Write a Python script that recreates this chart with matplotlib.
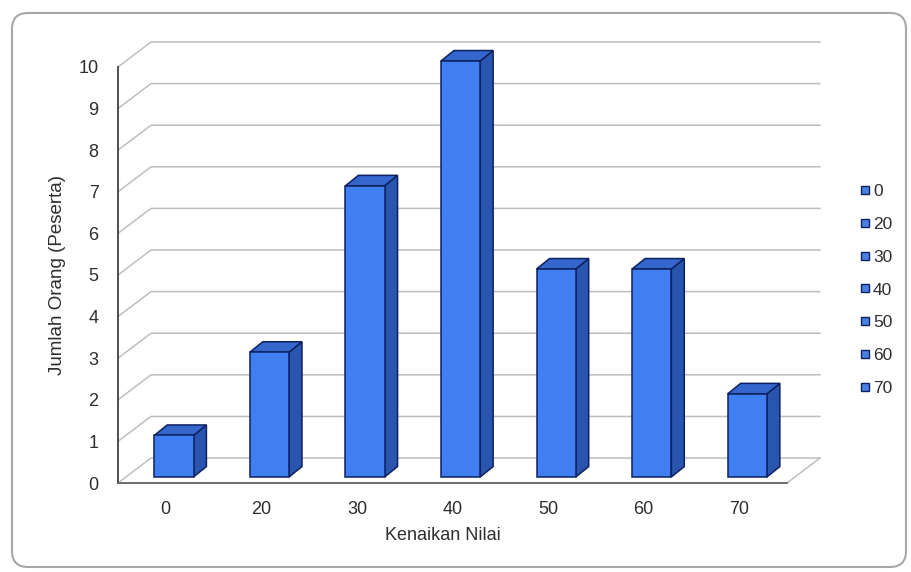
import matplotlib
matplotlib.use("Agg")
import matplotlib.pyplot as plt
from matplotlib.patches import Rectangle, Polygon, FancyBboxPatch
from matplotlib.lines import Line2D
from matplotlib.transforms import IdentityTransform

plt.rcParams['font.family'] = ['Liberation Sans', 'DejaVu Sans']

# data
categories = ['0', '20', '30', '40', '50', '60', '70']
counts = [1, 3, 7, 10, 5, 5, 2]

# colours
front_col = '#3F7FF2'
side_col = '#2A55AE'
top_col = '#3466CC'
edge_col = '#0D2160'
grid_col = '#BEBEBE'
text_col = '#2E2E2E'

# pseudo 3d geometry (data units)
DX, DY = 0.345, 0.60      # depth of the back wall
BX, BY = 0.085, 0.145     # where the bars sit in depth
bdx, bdy = 0.135, 0.25    # depth of a bar
w = 0.41

n = len(categories)
fig = plt.figure(figsize=(9.12, 5.72), dpi=100)
ax = fig.add_axes([118/912, 89/572, 702/912, 441/572])
ax.set_xlim(-0.5, n - 0.5 + DX)
ax.set_ylim(0, 10 + DY)

# back wall grid lines + left side diagonals
for v in range(0, 11):
    ax.plot([-0.5, -0.5 + DX, n - 0.5 + DX], [v, v + DY, v + DY],
            color=grid_col, lw=1.1, zorder=1, clip_on=False)
# floor right edge
ax.plot([n - 0.5, n - 0.5 + DX], [0, DY], color=grid_col, lw=1.1, zorder=1, clip_on=False)

for i, v in enumerate(counts):
    x0 = i - w/2 + BX
    y0 = BY
    ax.add_patch(Polygon([(x0 + w, y0), (x0 + w + bdx, y0 + bdy),
                          (x0 + w + bdx, y0 + v + bdy), (x0 + w, y0 + v)],
                         closed=True, fc=side_col, ec=edge_col, lw=1.1, zorder=3))
    ax.add_patch(Polygon([(x0, y0 + v), (x0 + w, y0 + v),
                          (x0 + w + bdx, y0 + v + bdy), (x0 + bdx, y0 + v + bdy)],
                         closed=True, fc=top_col, ec=edge_col, lw=1.1, zorder=3))
    ax.add_patch(Rectangle((x0, y0), w, v, fc=front_col, ec=edge_col, lw=1.1, zorder=4))

for s in ['top', 'right']:
    ax.spines[s].set_visible(False)
ax.spines['left'].set_bounds(0, 10)
ax.spines['bottom'].set_bounds(-0.5, n - 0.5)
ax.spines['left'].set_color('#404040')
ax.spines['bottom'].set_color('#606060')
ax.spines['left'].set_linewidth(1.3)
ax.spines['bottom'].set_linewidth(1.3)

ax.set_yticks(range(0, 11))
ax.set_xticks(range(n))
ax.set_xticklabels(categories)
ax.tick_params(axis='y', length=0, pad=14, labelsize=13, colors=text_col)
ax.tick_params(axis='x', length=0, pad=13, labelsize=13, colors=text_col)

ax.set_ylabel('Jumlah Orang (Peserta)', fontsize=13.5, color=text_col)
ax.yaxis.set_label_coords(-0.074, 0.472)
ax.set_xlabel('Kenaikan Nilai', fontsize=13, color=text_col)
ax.xaxis.set_label_coords(0.463, -0.10)

handles = [Line2D([], [], ls='none', marker='s', markersize=5.5, mfc='#4A80E0',
                  mec=edge_col, mew=1.0) for c in categories]
fig.legend(handles, categories, loc='center left', bbox_to_anchor=(860/912, (572-290)/572),
           frameon=False, fontsize=12.5, handlelength=0.55,
           handletextpad=0.2, labelspacing=1.02, labelcolor=text_col, borderaxespad=0,
           borderpad=0)

frame = FancyBboxPatch((12, 5), 894, 554, boxstyle='round,pad=0,rounding_size=16',
                       transform=IdentityTransform(), fc='none', ec='#A8A8A8', lw=1.5)
fig.patches.append(frame)

fig.savefig('out.png', dpi=100)
